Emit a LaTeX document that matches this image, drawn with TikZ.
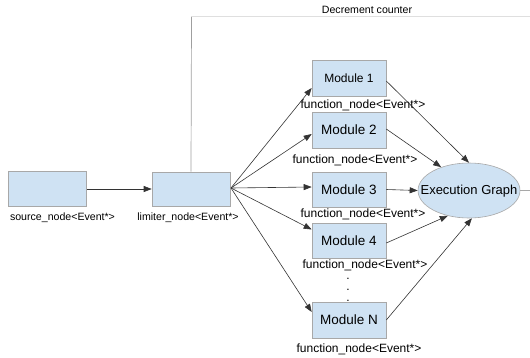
\documentclass[tikz,border=0pt]{standalone}
\usepackage{fontspec}
\setmainfont{Liberation Sans}
\usetikzlibrary{arrows.meta,shapes.geometric}
\definecolor{boxfill}{HTML}{CFE2F3}
\definecolor{boxdraw}{HTML}{A8A8A8}
\definecolor{linec}{HTML}{333333}
\tikzset{
  box/.style={draw=boxdraw, fill=boxfill, line width=0.6pt, minimum width=78pt, minimum height=35pt, inner sep=0pt},
  modbox/.style={box, minimum width=74pt, minimum height=36pt, font=\fontsize{13.5}{15}\selectfont},
  egstyle/.style={ellipse, draw=boxdraw, fill=boxfill, line width=0.6pt, minimum width=102pt, minimum height=55pt, inner sep=0pt},
  egtext/.style={font=\fontsize{13}{15}\selectfont, inner sep=0pt},
  smalllbl/.style={font=\fontsize{10.6}{12}\selectfont, inner sep=0pt},
  fnlbl/.style={font=\fontsize{12}{14}\selectfont, inner sep=0pt},
  arr/.style={draw=linec, line width=0.6pt, -{Triangle[length=8pt,width=6pt]}},
}
\begin{document}
\begin{tikzpicture}[x=1pt,y=-1pt]
\useasboundingbox (0,0) rectangle (530,357);
% left boxes
\node[box] (src) at (47.5,189) {};
\node[box, minimum height=34pt] (lim) at (191,189) {};
\node[smalllbl] (srcl) at (62.5,218) {source\_node<Event*>};
\node[smalllbl] (liml) at (188,218) {limiter\_node<Event*>};
% modules
\node[modbox, font=\fontsize{12}{14}\selectfont] (m1) at (349,78) {Module 1};
\node[modbox] (m2) at (349,130) {Module 2};
\node[modbox, minimum height=35pt] (m3) at (349,189.5) {Module 3};
\node[modbox, minimum height=35pt] (m4) at (349,240.5) {Module 4};
\node[modbox] (mn) at (349,320) {Module N};
\node[fnlbl] (f1) at (363,105) {function\_node<Event*>};
\node[fnlbl] (f2) at (355,160) {function\_node<Event*>};
\node[fnlbl] (f3) at (363,214) {function\_node<Event*>};
\node[fnlbl] (f4) at (365,265) {function\_node<Event*>};
\node[fnlbl] (fn) at (359,349) {function\_node<Event*>};
\node[fnlbl, anchor=base] (d1) at (348,279) {.};
\node[fnlbl, anchor=base] (d2) at (348,290) {.};
\node[fnlbl, anchor=base] (d3) at (348,301) {.};
% execution graph
\node[egstyle] (eg) at (469,190.5) {};
\node[egtext] (egt) at (469,191) {Execution Graph};
\coordinate (egout) at (530,190.5);
\draw[boxdraw, line width=0.6pt] (eg.east) -- (egout);
% decrement counter
\coordinate (dc1) at (191.5,16.5);
\coordinate (dc2) at (530,16.5);
\draw[gray!75, line width=0.7pt] (lim.north) -- (dc1);
\draw[gray!25, line width=1.6pt] (dc1) -- (dc2);
\node[smalllbl] (dcl) at (367,10) {Decrement counter};
% arrows
\draw[arr] (src.east) -- (lim.west);
\coordinate (fan) at (231,188);
\draw[arr] (fan) -- ([yshift=-10pt]m1.west);
\draw[arr] (fan) -- ([yshift=-4pt]m2.west);
\draw[arr] (fan) -- ([yshift=2.5pt]m3.west);
\draw[arr] (fan) -- ([yshift=11pt]m4.west);
\draw[arr] (fan) -- ([yshift=8pt]mn.west);
\draw[arr] ([yshift=-3pt]m1.east) -- (eg.north);
\draw[arr] ([yshift=1pt]m2.east) -- (eg.140);
\draw[arr] (m3.east) -- (eg.west);
\draw[arr] ([yshift=-2.5pt]m4.east) -- (eg.230);
\draw[arr] (mn.east) -- (eg.276);
\end{tikzpicture}
\end{document}
